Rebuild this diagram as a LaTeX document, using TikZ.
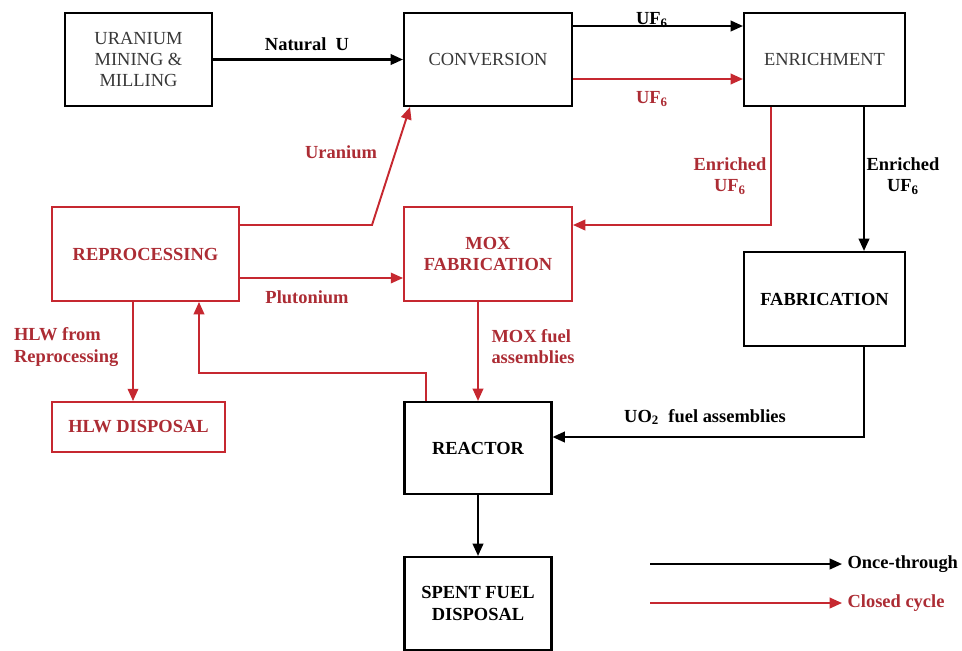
\documentclass[tikz,border=0pt]{standalone}
\usepackage{fontspec}
\setmainfont{Liberation Serif}
\usetikzlibrary{arrows.meta}
\definecolor{cyclered}{RGB}{198,40,48}
\definecolor{labelred}{RGB}{172,44,52}
\definecolor{boxgray}{RGB}{55,55,55}
\begin{document}
\begin{tikzpicture}[x=0.02cm,y=-0.02cm,
	box/.style={draw=black,line width=1.2pt,align=center,inner sep=0pt,text=boxgray,font=\fontsize{10.5}{12}\selectfont},
	boldbox/.style={box,text=black,font=\fontsize{10.5}{12}\selectfont\bfseries},
	redbox/.style={boldbox,draw=cyclered,line width=1.1pt,text=labelred},
	lbl/.style={inner sep=1pt,align=center,font=\fontsize{10.5}{12}\selectfont\bfseries},
	redlbl/.style={lbl,text=labelred},
	once/.style={line width=1.2pt,-{Triangle[length=7pt,width=6pt]}},
	closed/.style={line width=1.1pt,draw=cyclered,-{Triangle[length=7pt,width=6pt,fill=cyclered]}}]
	\useasboundingbox (0,0) rectangle (962,650);
	% boxes
	\node[box,minimum width=2.94cm,minimum height=1.86cm] (mining) at (138.5,59.5) {URANIUM\\MINING \&\\MILLING};
	\node[box,minimum width=3.36cm,minimum height=1.86cm] (conv) at (488,59.5) {CONVERSION};
	\node[box,minimum width=3.22cm,minimum height=1.86cm] (enrich) at (824.5,59.5) {ENRICHMENT};
	\node[redbox,minimum width=3.74cm,minimum height=1.88cm] (repro) at (145.5,254) {REPROCESSING};
	\node[redbox,minimum width=3.36cm,minimum height=1.88cm] (mox) at (488,254) {MOX\\FABRICATION};
	\node[boldbox,minimum width=3.22cm,minimum height=1.88cm] (fab) at (824.5,299) {FABRICATION};
	\node[redbox,minimum width=3.46cm,minimum height=1cm] (hlw) at (138.5,427) {HLW DISPOSAL};
	\node[boldbox,minimum width=2.94cm,minimum height=1.84cm] (reactor) at (478,448) {REACTOR};
	\node[boldbox,minimum width=2.94cm,minimum height=1.86cm] (spent) at (478,603.5) {SPENT FUEL\\DISPOSAL};
	% rows and columns of the connectors
	\coordinate (uftop) at (0,26);
	\coordinate (ufred) at (0,79);
	\coordinate (hirow) at (0,225);
	\coordinate (purow) at (0,278);
	\coordinate (uo2row) at (0,437);
	\coordinate (enrx) at (771,0);
	\coordinate (fabx) at (864,0);
	\coordinate (hlwx) at (133,0);
	\coordinate (retx) at (426,0);
	\coordinate (retcorner) at (199,373);
	\coordinate (ubend) at (372,225);
	\coordinate (ux) at (410,0);
	% once-through
	\draw[once] (mining) -- (conv);
	\draw[once] (conv.east |- uftop) -- (enrich.west |- uftop);
	\draw[once] (enrich.south -| fabx) -- (fab.north -| fabx);
	\draw[once] (fab.south -| fabx) |- (reactor.east |- uo2row);
	\draw[once] (reactor) -- (spent);
	% closed cycle
	\draw[closed] (conv.east |- ufred) -- (enrich.west |- ufred);
	\draw[closed] (enrich.south -| enrx) |- (mox.east |- hirow);
	\draw[closed] (repro.east |- hirow) -- (ubend) -- (conv.south -| ux);
	\draw[closed] (repro.east |- purow) -- (mox.west |- purow);
	\draw[closed] (mox.south -| reactor) -- (reactor);
	\draw[closed] (reactor.north -| retx) |- (retcorner) -- (repro.south -| retcorner);
	\draw[closed] (repro.south -| hlwx) -- (hlw.north -| hlwx);
	% labels
	\node[lbl] (natu) at (307,44) {Natural\ \ U};
	\node[lbl] (uf6a) at (652,20) {UF\textsubscript{6}};
	\node[redlbl] (uf6b) at (652,99) {UF\textsubscript{6}};
	\node[redlbl] (uran) at (341,152) {Uranium};
	\node[redlbl] (plut) at (307,297) {Plutonium};
	\node[redlbl] (enrred) at (730,176) {Enriched\\UF\textsubscript{6}};
	\node[lbl] (enrblack) at (903,176) {Enriched\\UF\textsubscript{6}};
	\node[redlbl,anchor=west,align=left] (hlwfrom) at (12,347) {HLW from\\Reprocessing};
	\node[redlbl,align=left] (moxfuel) at (533,347) {MOX fuel\\assemblies};
	\node[lbl] (uo2fuel) at (705,417) {UO\textsubscript{2}\ \ fuel assemblies};
	% legend
	\coordinate (lgonce) at (650,564);
	\coordinate (lgclosed) at (650,603);
	\node[lbl,anchor=west,inner sep=3pt] (oncetxt) at (842,564) {Once-through};
	\node[redlbl,anchor=west,inner sep=3pt] (closedtxt) at (842,603) {Closed cycle};
	\draw[once] (lgonce) -- (oncetxt.west);
	\draw[closed] (lgclosed) -- (closedtxt.west);
\end{tikzpicture}
\end{document}
